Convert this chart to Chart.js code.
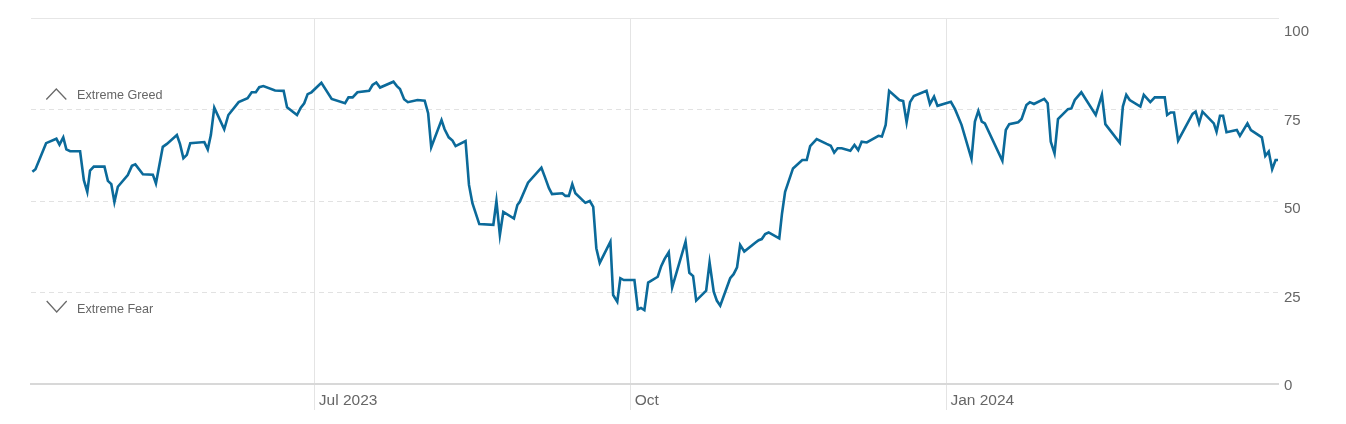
<!DOCTYPE html>
<html>
<head>
<meta charset="utf-8">
<title>Fear &amp; Greed Index</title>
<script src="https://cdn.jsdelivr.net/npm/chart.js@4.4.0/dist/chart.umd.min.js"></script>
<style>
    html, body { margin: 0; padding: 0; background: #fff; }
    #wrap { width: 1346px; height: 424px; }
</style>
</head>
<body>
<div id="wrap"><canvas id="fgChart" width="1346" height="424"></canvas></div>
<script>
// x positions are days counted from 1 Jul 2023
const days = [
    -82.3, -81.4, -78.3, -75.3, -74.4, -73.3, -72.4, -71.3, -68.4, -67.3,
    -66.3, -65.5, -64.4, -61.3, -60.3, -59.3, -58.4, -57.4, -54.5, -53.3,
    -52.3, -50.1, -47.2, -46.3, -44.3, -43.1, -40.2, -39.3, -38.3, -37.3,
    -36.3, -32.2, -31.2, -30.3, -29.3, -26.4, -25.2, -22.2, -19.6, -18.4,
    -17.2, -16.2, -15.0, -11.6, -9.1, -8.1, -5.2, -4.1, -3.1, -2.1,
    -1.0, 1.9, 4.9, 8.8, 9.8, 11.0, 12.4, 15.8, 16.8, 17.9,
    19.0, 22.9, 23.9, 24.8, 26.0, 27.1, 29.9, 32.0, 33.0, 33.9,
    36.9, 37.8, 39.0, 40.1, 41.0, 43.9, 44.9, 45.9, 47.9, 52.0,
    52.9, 53.9, 54.9, 58.0, 59.0, 59.7, 62.1, 66.0, 67.0, 68.2,
    69.1, 72.1, 73.0, 74.0, 75.0, 75.9, 78.8, 80.1, 81.1, 82.0,
    83.0, 86.1, 86.9, 88.1, 89.0, 90.0, 93.1, 94.1, 95.0, 96.0,
    97.1, 99.9, 100.9, 101.9, 103.1, 104.1, 108.0, 109.1, 110.2, 111.1,
    114.0, 115.0, 116.2, 117.1, 118.1, 121.0, 122.0, 123.0, 123.9, 125.1,
    128.3, 129.3, 130.2, 131.2, 132.2, 135.3, 136.1, 137.0, 138.0, 139.3,
    142.0, 143.3, 144.3, 146.2, 149.1, 150.3, 151.3, 152.3, 153.5, 156.0,
    157.2, 158.3, 159.3, 160.8, 164.2, 165.2, 166.3, 167.3, 170.3, 171.4,
    172.4, 173.4, 174.5, 178.2, 179.2, 180.4, 181.4, 185.3, 186.5, 188.4,
    191.3, 192.3, 193.3, 194.3, 195.2, 200.3, 201.3, 202.3, 204.9, 205.9,
    207.3, 208.3, 209.5, 212.5, 213.5, 214.4, 215.5, 216.5, 219.4, 220.4,
    221.4, 223.3, 227.5, 229.3, 230.3, 234.5, 235.4, 236.4, 237.4, 240.5,
    241.5, 243.4, 244.7, 247.6, 248.3, 249.3, 250.3, 251.5, 255.7, 256.6,
    257.6, 258.6, 261.9, 262.7, 263.7, 264.6, 265.6, 268.6, 269.5, 271.7,
    272.7, 275.9, 276.9, 277.9, 278.9, 279.9, 280.8
];
const fearGreed = [
    58.0, 58.7, 65.8, 67.0, 65.4, 67.4, 64.1, 63.6, 63.6, 55.7,
    52.5, 58.3, 59.4, 59.4, 55.5, 54.6, 49.7, 53.9, 57.1, 59.6,
    60.0, 57.3, 57.2, 54.8, 64.8, 65.6, 68.0, 65.6, 61.7, 62.6,
    65.8, 66.1, 64.1, 68.0, 75.5, 69.6, 73.5, 77.0, 78.1, 79.7,
    79.7, 81.1, 81.4, 80.2, 80.1, 75.6, 73.5, 75.5, 76.7, 79.2,
    79.7, 82.3, 77.9, 76.7, 78.3, 78.3, 79.7, 80.1, 81.7, 82.4,
    81.0, 82.6, 81.4, 80.6, 77.8, 77.0, 77.6, 77.4, 74.0, 64.7,
    72.1, 69.6, 67.4, 66.5, 65.0, 66.4, 54.4, 49.4, 43.7, 43.5,
    50.0, 40.7, 47.0, 45.2, 48.9, 49.8, 55.0, 59.1, 56.6, 53.5,
    51.9, 52.1, 51.4, 51.4, 54.6, 52.1, 49.5, 50.0, 48.4, 37.1,
    33.1, 38.9, 24.3, 22.5, 28.9, 28.4, 28.4, 20.4, 20.8, 20.2,
    27.7, 29.3, 32.2, 34.2, 36.0, 26.4, 38.9, 30.4, 29.5, 22.8,
    25.5, 33.2, 25.2, 22.8, 21.4, 28.9, 30.0, 31.9, 38.0, 36.2,
    38.6, 39.3, 39.6, 41.0, 41.4, 39.8, 46.6, 52.5, 55.3, 58.9,
    61.2, 61.2, 65.0, 66.9, 65.6, 65.1, 63.2, 64.4, 64.4, 63.7,
    65.3, 63.9, 66.2, 66.0, 67.8, 67.6, 70.8, 80.1, 77.6, 77.3,
    71.5, 77.0, 78.7, 80.1, 76.5, 78.5, 76.0, 77.1, 75.1, 70.8,
    61.5, 71.7, 74.6, 71.7, 71.2, 61.0, 69.4, 71.0, 71.5, 72.4,
    76.2, 77.0, 76.5, 77.9, 76.7, 66.2, 63.0, 72.4, 75.1, 75.3,
    77.6, 79.7, 73.5, 79.0, 71.0, 65.9, 75.8, 79.0, 77.6, 75.8,
    79.0, 77.0, 78.3, 78.3, 73.5, 74.2, 74.2, 66.5, 73.8, 74.4,
    71.2, 74.4, 71.2, 68.9, 73.3, 73.3, 68.8, 69.4, 67.8, 71.2,
    69.4, 67.4, 62.3, 63.5, 58.7, 61.2, 61.2
];

const xTickDays = [0, 92, 184];
const xTickLabels = ['Jul 2023', 'Oct', 'Jan 2024'];
const yTickValues = [0, 25, 50, 75, 100];
const zoneLabels = ['Extreme Greed', 'Extreme Fear'];

// visible window of the time axis (days from 1 Jul 2023)
const xMin = -82.7;
const xMax = 280.6;

const points = days.map((d, i) => ({ x: d, y: fearGreed[i] }));

// chevrons + "Extreme Greed / Extreme Fear" captions on the left
const zonePlugin = {
    id: 'zones',
    afterDatasetsDraw(chart) {
        const ctx = chart.ctx;
        ctx.save();
        ctx.strokeStyle = '#6a6a6a';
        ctx.lineWidth = 1.3;
        ctx.beginPath();
        ctx.moveTo(46.3, 99.5);
        ctx.lineTo(56.3, 89);
        ctx.lineTo(66.3, 99.5);
        ctx.moveTo(46.7, 301);
        ctx.lineTo(56.7, 312);
        ctx.lineTo(66.7, 301);
        ctx.stroke();
        ctx.fillStyle = '#666';
        ctx.font = '12.6px "Liberation Sans", Arial, sans-serif';
        ctx.textBaseline = 'middle';
        ctx.fillText(zoneLabels[0], 77, 95.5);
        ctx.fillText(zoneLabels[1], 77, 309.5);
        ctx.restore();
    }
};

const ctx = document.getElementById('fgChart').getContext('2d');
new Chart(ctx, {
    type: 'line',
    data: {
        datasets: [{
            data: points,
            borderColor: '#0b6a9a',
            borderWidth: 2.6,
            pointRadius: 0,
            tension: 0,
            fill: false
        }]
    },
    options: {
        responsive: false,
        animation: false,
        layout: { padding: { left: 31, top: 18, right: 0, bottom: 0 } },
        plugins: {
            legend: { display: false },
            tooltip: { enabled: false }
        },
        scales: {
            x: {
                type: 'linear',
                position: 'bottom',
                min: xMin,
                max: xMax,
                afterBuildTicks: scale => { scale.ticks = xTickDays.map(v => ({ value: v })); },
                afterFit: scale => { scale.height = 40; },
                grid: { color: '#e4e4e4', lineWidth: 1, drawTicks: true, tickLength: 26 },
                border: { display: true, color: '#d8d8d8', width: 2 },
                ticks: {
                    autoSkip: false,
                    maxRotation: 0,
                    align: 'start',
                    labelOffset: 4,
                    padding: -19,
                    color: '#666',
                    font: { family: '"Liberation Sans", Arial, sans-serif', size: 15.5 },
                    callback: (value, index) => xTickLabels[index]
                }
            },
            xTop: {
                type: 'linear',
                position: 'top',
                min: xMin,
                max: xMax,
                afterFit: scale => { scale.height = 0; },
                grid: { display: false, drawTicks: false },
                border: { display: true, color: '#e6e6e6', width: 1 },
                ticks: { display: false }
            },
            y: {
                type: 'linear',
                position: 'right',
                min: 0,
                max: 100,
                afterBuildTicks: scale => { scale.ticks = yTickValues.map(v => ({ value: v })); },
                afterFit: scale => { scale.width = 0; },
                grid: {
                    drawTicks: false,
                    lineWidth: 1,
                    color: c => (c.tick && (c.tick.value === 0 || c.tick.value === 100)) ? 'rgba(0,0,0,0)' : '#e2e2e2'
                },
                border: { display: false, dash: [5, 4] },
                ticks: { display: false }
            },
            // label-only axis: the tick text sits slightly tighter than the grid
            yLab: {
                type: 'linear',
                position: 'right',
                min: -0.565,
                max: 102.825,
                afterBuildTicks: scale => { scale.ticks = yTickValues.map(v => ({ value: v })); },
                afterFit: scale => { scale.width = 68; },
                grid: { display: false, drawTicks: false },
                border: { display: false },
                ticks: {
                    padding: 6,
                    labelOffset: 4,
                    color: '#666',
                    font: { family: '"Liberation Sans", Arial, sans-serif', size: 15 }
                }
            }
        }
    },
    plugins: [zonePlugin]
});
</script>
</body>
</html>
